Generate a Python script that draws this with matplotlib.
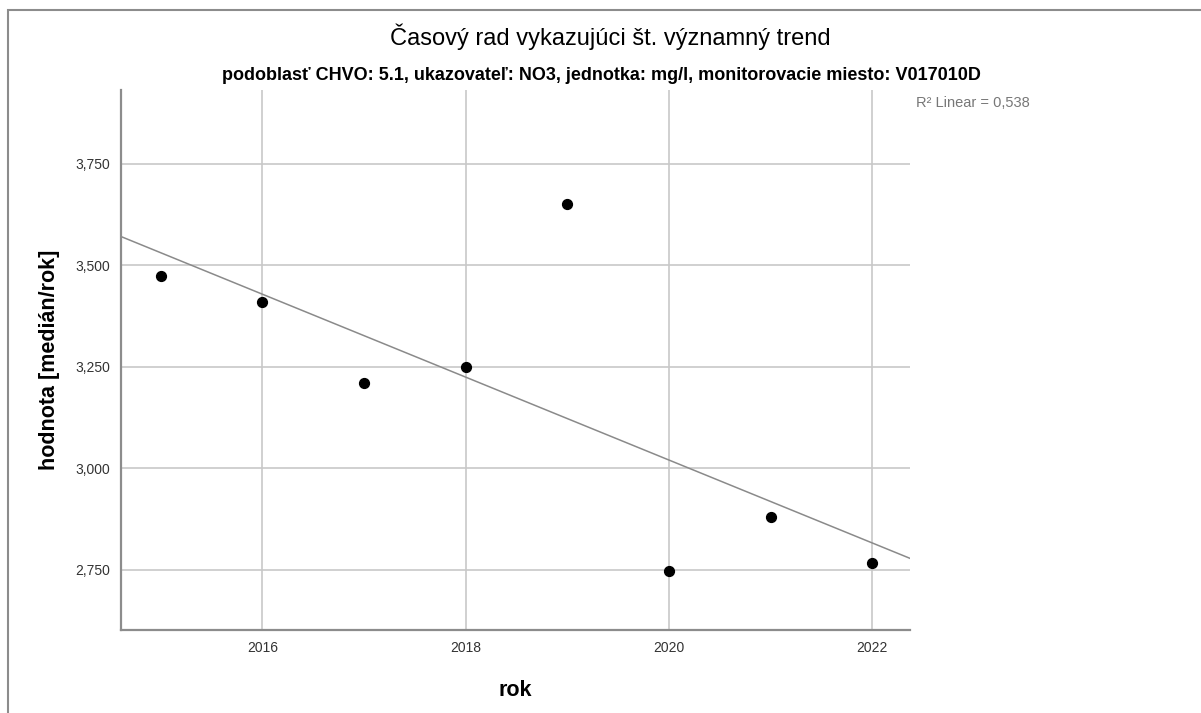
import numpy as np
import matplotlib.pyplot as plt
from matplotlib.patches import Rectangle

# Údaje (medián za rok)
roky = [2015, 2016, 2017, 2018, 2019, 2020, 2021, 2022]
hodnoty = [3.475, 3.409, 3.210, 3.249, 3.652, 2.747, 2.880, 2.768]
x_ticky = [2016, 2018, 2020, 2022]
y_ticky = [2.75, 3.00, 3.25, 3.50, 3.75]

plt.rcParams['font.family'] = ['Liberation Sans', 'DejaVu Sans']

W, H = 1201, 713
fig = plt.figure(figsize=(W / 100, H / 100), dpi=100)

# Rámček okolo grafu
fig.patches.append(Rectangle((8 / W, -0.1), 1.2, 0.1 + (H - 10) / H, transform=fig.transFigure,
                             fill=False, edgecolor='#8c8c8c', linewidth=1.5))

ax = fig.add_axes([121 / W, 1 - 630 / H, (910 - 121) / W, (630 - 90) / H])

# Lineárny trend
k, q = np.polyfit(roky, hodnoty, 1)
pred = np.polyval([k, q], roky)
r2 = 1 - np.sum((np.array(hodnoty) - pred) ** 2) / np.sum((np.array(hodnoty) - np.mean(hodnoty)) ** 2)

xmin, xmax = 2014.61, 2022.37
ax.set_xlim(xmin, xmax)
ax.set_ylim(2.602, 3.932)
xl = np.array([xmin, xmax])
ax.plot(xl, k * xl + q, color='#8a8a8a', linewidth=1.1, zorder=2)

ax.scatter(roky, hodnoty, s=50, color='black', zorder=3)

ax.set_xticks(x_ticky)
ax.set_xticklabels([str(r) for r in x_ticky])
ax.set_yticks(y_ticky)
ax.set_yticklabels([f'{v:.3f}'.replace('.', ',') for v in y_ticky])
ax.tick_params(length=0, labelsize=10, colors='#333333', pad=8)
ax.grid(True, color='#c8c8c8', linewidth=1.2)
ax.set_axisbelow(True)

for s in ['top', 'right']:
    ax.spines[s].set_visible(False)
for s in ['left', 'bottom']:
    ax.spines[s].set_color('#8c8c8c')
    ax.spines[s].set_linewidth(1.6)

ax.set_xlabel('rok', fontsize=15.5, fontweight='bold', labelpad=18)
ax.set_ylabel('hodnota [medián/rok]', fontsize=15.5, fontweight='bold', labelpad=11)

fig.text(610 / W, 1 - 37 / H, 'Časový rad vykazujúci št. významný trend',
         ha='center', va='center', fontsize=17)
fig.text(601 / W, 1 - 75 / H,
         "podoblasť CHVO: 5.1, ukazovateľ: NO3, jednotka: mg/l, monitorovacie miesto: V017010D",
         ha='center', va='center', fontsize=13, fontweight='bold')
fig.text(916 / W, 1 - 103 / H, f'R² Linear = {r2:.3f}'.replace('.', ','),
         ha='left', va='center', fontsize=10.5, color='#777777')

fig.savefig('out.png', dpi=100)
